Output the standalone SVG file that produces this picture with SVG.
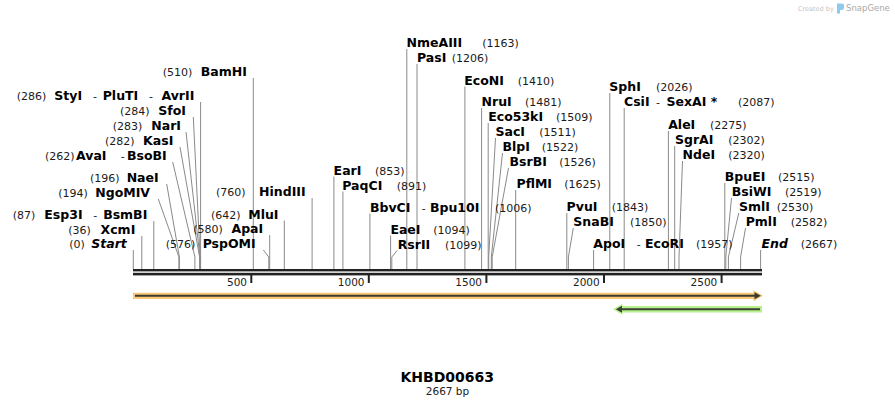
<svg xmlns="http://www.w3.org/2000/svg" width="895" height="408" viewBox="0 0 895 408">
<style>
.n{font-family:"DejaVu Sans",Verdana,sans-serif;font-weight:bold;font-size:12.5px;fill:#000}
.c{font-family:"DejaVu Sans",Verdana,sans-serif;font-size:11px;fill:#1a1a1a}
.t{font-family:"DejaVu Sans",Verdana,sans-serif;font-size:10.5px;fill:#222;text-anchor:end}
.it{font-style:italic}
.e{text-anchor:end}
.ln{stroke:#8a8a8a;stroke-width:1;fill:none}
.bar{fill:#222}
</style>
<rect width="895" height="408" fill="#fff"/>

<g id="snapgene-logo">
<text x="798" y="10.5" font-family="DejaVu Sans,sans-serif" font-size="6.5" fill="#c4c4c4">Created by</text>
<path d="M837,3.5 h5 a2,2 0 0 1 2,2 v2.5 a2,2 0 0 1 -2,2 h-2 v3.5 h-3 z" fill="#8ccaf0"/>
<text x="846" y="10.7" font-family="DejaVu Sans,sans-serif" font-size="8.5" fill="#a9a9a9">SnapGene</text>
</g>

<g id="connectors">
<line class="ln" x1="133.3" y1="250" x2="133.3" y2="269"/>
<line class="ln" x1="141.8" y1="236" x2="141.8" y2="269"/>
<line class="ln" x1="153.8" y1="221" x2="153.8" y2="269"/>
<line class="ln" x1="200.6" y1="102" x2="200.6" y2="269"/>
<line class="ln" x1="253.3" y1="78" x2="253.3" y2="269"/>
<line class="ln" x1="269.7" y1="235" x2="269.7" y2="269"/>
<line class="ln" x1="284.3" y1="220.5" x2="284.3" y2="269"/>
<line class="ln" x1="312.1" y1="198" x2="312.1" y2="269"/>
<line class="ln" x1="333.9" y1="176.5" x2="333.9" y2="269"/>
<line class="ln" x1="342.9" y1="191.5" x2="342.9" y2="269"/>
<line class="ln" x1="369.9" y1="213.5" x2="369.9" y2="269"/>
<line class="ln" x1="390.6" y1="235.5" x2="390.6" y2="269"/>
<line class="ln" x1="406.8" y1="49" x2="406.8" y2="269"/>
<line class="ln" x1="417" y1="64" x2="417" y2="269"/>
<line class="ln" x1="464.9" y1="86.5" x2="464.9" y2="269"/>
<line class="ln" x1="481.6" y1="108" x2="481.6" y2="269"/>
<line class="ln" x1="488.2" y1="123" x2="488.2" y2="269"/>
<line class="ln" x1="515.7" y1="190" x2="515.7" y2="269"/>
<line class="ln" x1="566.8" y1="213" x2="566.8" y2="269"/>
<line class="ln" x1="593.6" y1="250" x2="593.6" y2="269"/>
<line class="ln" x1="609.8" y1="93" x2="609.8" y2="269"/>
<line class="ln" x1="624.2" y1="108" x2="624.2" y2="269"/>
<line class="ln" x1="668.4" y1="131" x2="668.4" y2="269"/>
<line class="ln" x1="674.7" y1="146" x2="674.7" y2="269"/>
<line class="ln" x1="724.8" y1="183" x2="724.8" y2="269"/>
<line class="ln" x1="760.6" y1="250" x2="760.6" y2="269"/>
<polyline class="ln" points="158.3,199 178.9,257 178.9,269"/>
<polyline class="ln" points="166.7,184 179.4,257 179.4,269"/>
<polyline class="ln" points="172.7,162 194.9,257 194.9,269"/>
<polyline class="ln" points="180,147 199.6,257 199.6,269"/>
<polyline class="ln" points="186,132 199.9,257 199.9,269"/>
<polyline class="ln" points="193.3,117 200.1,257 200.1,269"/>
<polyline class="ln" points="263.3,250 268.8,257 268.8,269"/>
<polyline class="ln" points="397.2,250.5 391.8,257 391.8,269"/>
<polyline class="ln" points="495.5,138 488.7,257 488.7,269"/>
<polyline class="ln" points="502.5,153 491.3,257 491.3,269"/>
<polyline class="ln" points="508.5,168 492.2,257 492.2,269"/>
<polyline class="ln" points="573.3,228 568.4,257 568.4,269"/>
<polyline class="ln" points="682.5,161 679,257 679,269"/>
<polyline class="ln" points="731.5,198 725.8,257 725.8,269"/>
<polyline class="ln" points="738.8,213 728.4,257 728.4,269"/>
<polyline class="ln" points="745.5,228 740.6,257 740.6,269"/>
</g>

<g id="axis">
<rect class="bar" x="133" y="269" width="629" height="2.4"/>
<rect class="bar" x="133" y="272.8" width="629" height="2.6"/>
<rect class="bar" x="250.3" y="275" width="2" height="8"/>
<rect class="bar" x="367.8" y="275" width="2" height="8"/>
<rect class="bar" x="485.4" y="275" width="2" height="8"/>
<rect class="bar" x="603" y="275" width="2" height="8"/>
<rect class="bar" x="720.6" y="275" width="2" height="8"/>
<text class="t" x="247" y="286">500</text>
<text class="t" x="364.5" y="286">1000</text>
<text class="t" x="482" y="286">1500</text>
<text class="t" x="599.7" y="286">2000</text>
<text class="t" x="717.3" y="286">2500</text>
</g>

<g id="feature-forward">
<path d="M133,292.7 H753.5 V290.3 L763,295.8 L753.5,301.3 V299 H133 Z" fill="#f9c877"/>
<line x1="135" y1="295.8" x2="756" y2="295.8" stroke="#3b3a33" stroke-width="2"/>
<path d="M754.5,292.3 L760.8,295.8 L754.5,299.3 Z" fill="#3b3a33"/>
</g>

<g id="feature-reverse">
<path d="M762,306.1 H622.5 V303.8 L613,309.3 L622.5,314.8 V312.5 H762 Z" fill="#b8f08b"/>
<line x1="620" y1="309.3" x2="760" y2="309.3" stroke="#3b4235" stroke-width="2"/>
<path d="M622,305.8 L615.8,309.3 L622,312.8 Z" fill="#3b4235"/>
</g>

<g id="site-0"><text class="c" x="69.3" y="248">(0)</text><text class="n it e" x="126.8" y="248">Start</text></g>
<g id="site-36"><text class="c" x="68.3" y="234">(36)</text><text class="n e" x="135.3" y="234">XcmI</text></g>
<g id="site-87"><text class="c" x="12.7" y="219">(87)</text><text class="n" x="44.3" y="219">Esp3I</text><text class="c" x="93.3" y="219">-</text><text class="n e" x="147.3" y="219">BsmBI</text></g>
<g id="site-194"><text class="c" x="58.3" y="197">(194)</text><text class="n e" x="150" y="197">NgoMIV</text></g>
<g id="site-196"><text class="c" x="90" y="182">(196)</text><text class="n e" x="158.7" y="182">NaeI</text></g>
<g id="site-262"><text class="c" x="45" y="160">(262)</text><text class="n" x="76" y="160">AvaI</text><text class="c" x="120.7" y="160">-</text><text class="n e" x="166.7" y="160">BsoBI</text></g>
<g id="site-282"><text class="c" x="105" y="145">(282)</text><text class="n e" x="173.3" y="145">KasI</text></g>
<g id="site-283"><text class="c" x="112.7" y="130">(283)</text><text class="n e" x="181" y="130">NarI</text></g>
<g id="site-284"><text class="c" x="120" y="115">(284)</text><text class="n e" x="186" y="115">SfoI</text></g>
<g id="site-286"><text class="c" x="16.7" y="100">(286)</text><text class="n" x="54.3" y="100">StyI</text><text class="c" x="93" y="100">-</text><text class="n" x="102.7" y="100">PluTI</text><text class="c" x="149" y="100">-</text><text class="n e" x="194.3" y="100">AvrII</text></g>
<g id="site-510"><text class="c" x="162.7" y="76">(510)</text><text class="n e" x="246.8" y="76">BamHI</text></g>
<g id="site-576"><text class="c" x="165.7" y="248">(576)</text><text class="n e" x="255.7" y="248">PspOMI</text></g>
<g id="site-580"><text class="c" x="193.3" y="233">(580)</text><text class="n e" x="263.2" y="233">ApaI</text></g>
<g id="site-642"><text class="c" x="211" y="218.5">(642)</text><text class="n e" x="278.5" y="218.5">MluI</text></g>
<g id="site-760"><text class="c" x="216" y="196">(760)</text><text class="n e" x="305.6" y="196">HindIII</text></g>

<g id="site-853"><text class="n" x="333.6" y="174.5">EarI</text><text class="c" x="375" y="174.5">(853)</text></g>
<g id="site-891"><text class="n" x="342.3" y="189.5">PaqCI</text><text class="c" x="396.7" y="189.5">(891)</text></g>
<g id="site-1006"><text class="n" x="370" y="211.5">BbvCI</text><text class="c" x="421.7" y="211.5">-</text><text class="n" x="430" y="211.5">Bpu10I</text><text class="c" x="495" y="211.5">(1006)</text></g>
<g id="site-1094"><text class="n" x="390.4" y="233.5">EaeI</text><text class="c" x="433.3" y="233.5">(1094)</text></g>
<g id="site-1099"><text class="n" x="397.7" y="248.5">RsrII</text><text class="c" x="445" y="248.5">(1099)</text></g>
<g id="site-1163"><text class="n" x="406.5" y="47">NmeAIII</text><text class="c" x="482.3" y="47">(1163)</text></g>
<g id="site-1206"><text class="n" x="417" y="62">PasI</text><text class="c" x="451.7" y="62">(1206)</text></g>
<g id="site-1410"><text class="n" x="464.3" y="84.5">EcoNI</text><text class="c" x="517.7" y="84.5">(1410)</text></g>
<g id="site-1481"><text class="n" x="481.5" y="106">NruI</text><text class="c" x="525" y="106">(1481)</text></g>
<g id="site-1509"><text class="n" x="488.2" y="121">Eco53kI</text><text class="c" x="556" y="121">(1509)</text></g>
<g id="site-1511"><text class="n" x="495.5" y="136">SacI</text><text class="c" x="539.3" y="136">(1511)</text></g>
<g id="site-1522"><text class="n" x="502.5" y="151">BlpI</text><text class="c" x="541.7" y="151">(1522)</text></g>
<g id="site-1526"><text class="n" x="509.5" y="166">BsrBI</text><text class="c" x="559.3" y="166">(1526)</text></g>
<g id="site-1625"><text class="n" x="516.5" y="188">PflMI</text><text class="c" x="564.3" y="188">(1625)</text></g>
<g id="site-1843"><text class="n" x="566.6" y="211">PvuI</text><text class="c" x="611.7" y="211">(1843)</text></g>
<g id="site-1850"><text class="n" x="573.3" y="226">SnaBI</text><text class="c" x="630" y="226">(1850)</text></g>
<g id="site-1957"><text class="n" x="593.3" y="248">ApoI</text><text class="c" x="636.7" y="248">-</text><text class="n" x="645" y="248">EcoRI</text><text class="c" x="696" y="248">(1957)</text></g>
<g id="site-2026"><text class="n" x="609.3" y="91">SphI</text><text class="c" x="656" y="91">(2026)</text></g>
<g id="site-2087"><text class="n" x="624" y="106">CsiI</text><text class="c" x="656" y="106">-</text><text class="n" x="666.5" y="106">SexAI *</text><text class="c" x="738" y="106">(2087)</text></g>
<g id="site-2275"><text class="n" x="668.2" y="129">AleI</text><text class="c" x="710" y="129">(2275)</text></g>
<g id="site-2302"><text class="n" x="675" y="144">SgrAI</text><text class="c" x="728.3" y="144">(2302)</text></g>
<g id="site-2320"><text class="n" x="682.5" y="159">NdeI</text><text class="c" x="728.3" y="159">(2320)</text></g>
<g id="site-2515"><text class="n" x="724.8" y="181">BpuEI</text><text class="c" x="778" y="181">(2515)</text></g>
<g id="site-2519"><text class="n" x="731.7" y="196">BsiWI</text><text class="c" x="785" y="196">(2519)</text></g>
<g id="site-2530"><text class="n" x="739" y="211">SmlI</text><text class="c" x="776.7" y="211">(2530)</text></g>
<g id="site-2582"><text class="n" x="745.7" y="226">PmlI</text><text class="c" x="790.7" y="226">(2582)</text></g>
<g id="site-2667"><text class="n it" x="761.5" y="248">End</text><text class="c" x="800.7" y="248">(2667)</text></g>

<g id="title">
<text x="447.3" y="382" text-anchor="middle" font-family="DejaVu Sans,Verdana,sans-serif" font-weight="bold" font-size="14" fill="#000">KHBD00663</text>
<text x="447.5" y="395" text-anchor="middle" font-family="DejaVu Sans,Verdana,sans-serif" font-size="10.5" fill="#222">2667 bp</text>
</g>
</svg>
